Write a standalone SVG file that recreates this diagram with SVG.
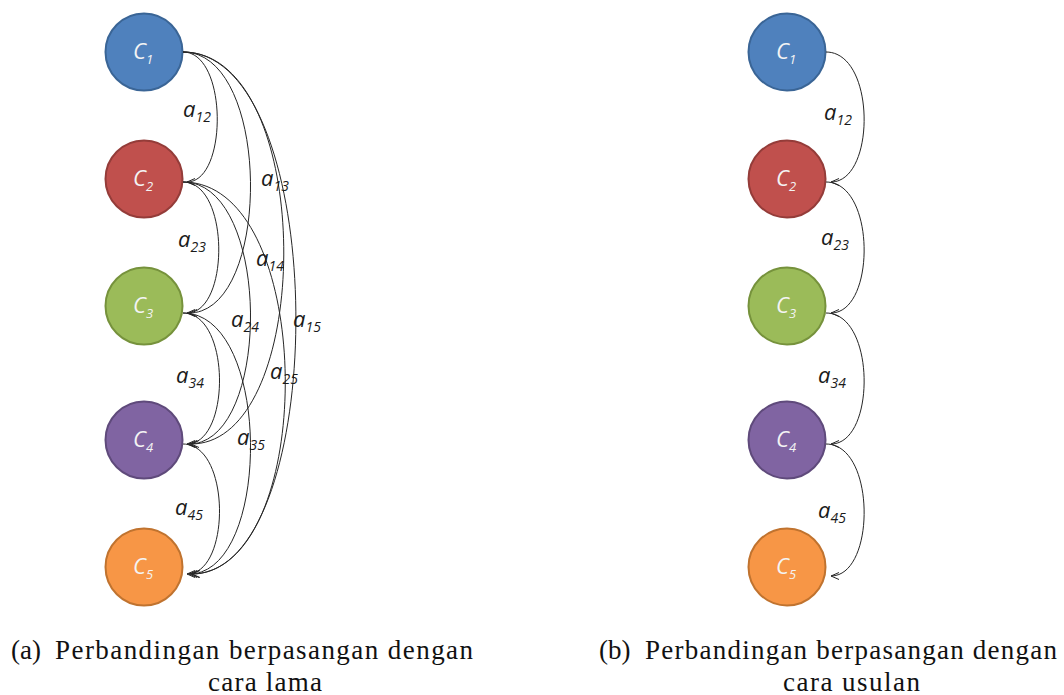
<svg xmlns="http://www.w3.org/2000/svg" width="1064" height="695" viewBox="0 0 1064 695">
<style>
.node circle{stroke-width:2}
.ctext{font-family:"Open Sans","DejaVu Sans",sans-serif;font-style:italic;font-size:22px;fill:#f4f4f4}
.conn path{fill:none;stroke:#262626;stroke-width:1;marker-end:url(#arr)}
.lbl{font-family:"Open Sans","DejaVu Sans",sans-serif;font-style:italic;font-size:22px;fill:#1a1a1a}
.cap{font-family:"Liberation Serif","Times New Roman",serif;font-size:27px;fill:#111}
</style>
<defs>
<marker id="arr" markerUnits="userSpaceOnUse" viewBox="-10 -6 12 12" refX="0" refY="0" markerWidth="12" markerHeight="12" orient="auto" overflow="visible">
<path d="M-8,-3.5 L0,0 L-8,3.5" fill="none" stroke="#262626" stroke-width="1"/>
</marker>
</defs>
<rect width="1064" height="695" fill="#fff"/>

<g id="left-C1" class="node"><circle cx="144" cy="52" r="38.5" fill="#4F81BD" stroke="#3A6596"/><text class="ctext" x="143" y="59" text-anchor="middle">C<tspan font-size="13" dy="5">1</tspan></text></g>
<g id="left-C2" class="node"><circle cx="144" cy="179" r="38.5" fill="#C0504D" stroke="#943C39"/><text class="ctext" x="143" y="186" text-anchor="middle">C<tspan font-size="13" dy="5">2</tspan></text></g>
<g id="left-C3" class="node"><circle cx="144" cy="306" r="38.5" fill="#9BBB59" stroke="#76923C"/><text class="ctext" x="143" y="313" text-anchor="middle">C<tspan font-size="13" dy="5">3</tspan></text></g>
<g id="left-C4" class="node"><circle cx="144" cy="440" r="38.5" fill="#8064A2" stroke="#5F4A7B"/><text class="ctext" x="143" y="447" text-anchor="middle">C<tspan font-size="13" dy="5">4</tspan></text></g>
<g id="left-C5" class="node"><circle cx="144" cy="567" r="38.5" fill="#F79646" stroke="#C0732F"/><text class="ctext" x="143" y="574" text-anchor="middle">C<tspan font-size="13" dy="5">5</tspan></text></g>

<g id="right-C1" class="node"><circle cx="787" cy="52" r="38.5" fill="#4F81BD" stroke="#3A6596"/><text class="ctext" x="786" y="59" text-anchor="middle">C<tspan font-size="13" dy="5">1</tspan></text></g>
<g id="right-C2" class="node"><circle cx="787" cy="179" r="38.5" fill="#C0504D" stroke="#943C39"/><text class="ctext" x="786" y="186" text-anchor="middle">C<tspan font-size="13" dy="5">2</tspan></text></g>
<g id="right-C3" class="node"><circle cx="787" cy="306" r="38.5" fill="#9BBB59" stroke="#76923C"/><text class="ctext" x="786" y="313" text-anchor="middle">C<tspan font-size="13" dy="5">3</tspan></text></g>
<g id="right-C4" class="node"><circle cx="787" cy="440" r="38.5" fill="#8064A2" stroke="#5F4A7B"/><text class="ctext" x="786" y="447" text-anchor="middle">C<tspan font-size="13" dy="5">4</tspan></text></g>
<g id="right-C5" class="node"><circle cx="787" cy="567" r="38.5" fill="#F79646" stroke="#C0732F"/><text class="ctext" x="786" y="574" text-anchor="middle">C<tspan font-size="13" dy="5">5</tspan></text></g>

<g id="connectors" class="conn">
<path d="M183,52 C228,52 228,182 187,182"/>
<path d="M183,182 C230,182 230,313 187,313"/>
<path d="M183,313 C231,313 231,444 187,444"/>
<path d="M183,444 C231,444 231,574 187,574"/>
<path d="M183,52 C272,52 272,313 189,313"/>
<path d="M183,182 C272,182 272,444 189,444"/>
<path d="M183,313 C272,313 272,574 189,574"/>
<path d="M183,52 C316,52 316,444 191,444"/>
<path d="M183,182 C318,182 318,574 191,574"/>
<path d="M183,52 C332,52 332,574 192,574"/>
<path d="M826,52 C876,52 876,182 831,182"/>
<path d="M826,182 C876,182 876,313 831,313"/>
<path d="M826,313 C876,313 876,444 831,444"/>
<path d="M826,444 C876,444 876,576 831,576"/>
</g>

<g id="labels">
<text class="lbl" x="183" y="117">a<tspan font-size="14" dy="5">12</tspan></text>
<text class="lbl" x="178" y="247">a<tspan font-size="14" dy="5">23</tspan></text>
<text class="lbl" x="176" y="383">a<tspan font-size="14" dy="5">34</tspan></text>
<text class="lbl" x="175" y="515">a<tspan font-size="14" dy="5">45</tspan></text>
<text class="lbl" x="261" y="186">a<tspan font-size="14" dy="5">13</tspan></text>
<text class="lbl" x="256" y="266">a<tspan font-size="14" dy="5">14</tspan></text>
<text class="lbl" x="231" y="327">a<tspan font-size="14" dy="5">24</tspan></text>
<text class="lbl" x="293" y="327">a<tspan font-size="14" dy="5">15</tspan></text>
<text class="lbl" x="270" y="379">a<tspan font-size="14" dy="5">25</tspan></text>
<text class="lbl" x="237" y="445">a<tspan font-size="14" dy="5">35</tspan></text>
<text class="lbl" x="824" y="120">a<tspan font-size="14" dy="5">12</tspan></text>
<text class="lbl" x="821" y="245">a<tspan font-size="14" dy="5">23</tspan></text>
<text class="lbl" x="818" y="383">a<tspan font-size="14" dy="5">34</tspan></text>
<text class="lbl" x="818" y="518">a<tspan font-size="14" dy="5">45</tspan></text>
</g>

<g id="captions">
<text class="cap" x="11" y="659">(a)</text>
<text class="cap" x="55" y="659" textLength="418" lengthAdjust="spacing">Perbandingan berpasangan dengan</text>
<text class="cap" x="208" y="691" textLength="114" lengthAdjust="spacing">cara lama</text>
<text class="cap" x="599" y="659">(b)</text>
<text class="cap" x="645" y="659" textLength="412" lengthAdjust="spacing">Perbandingan berpasangan dengan</text>
<text class="cap" x="783" y="691" textLength="137" lengthAdjust="spacing">cara usulan</text>
</g>
</svg>
